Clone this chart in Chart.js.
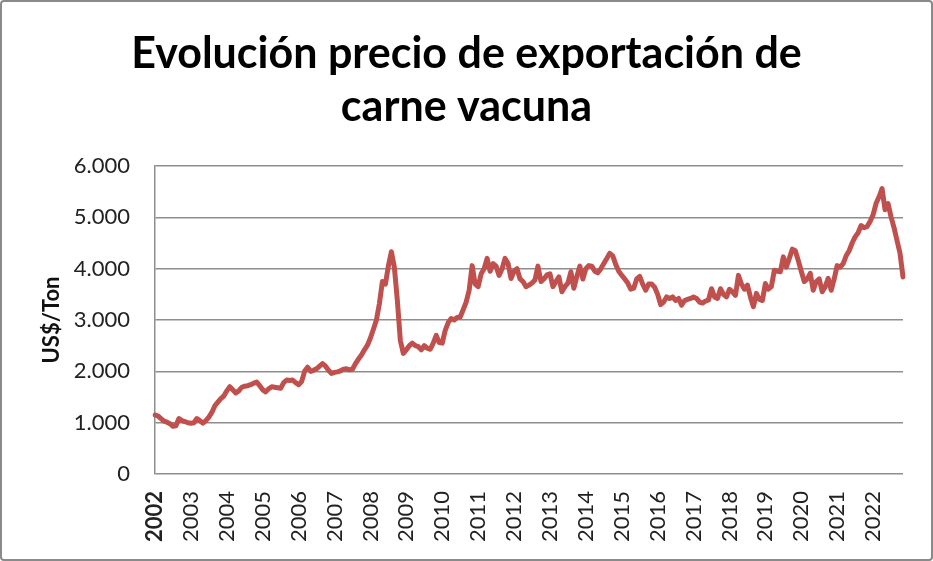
<!DOCTYPE html>
<html>
<head>
<meta charset="utf-8">
<script src="https://cdn.jsdelivr.net/npm/chart.js@4.4.1/dist/chart.umd.min.js"></script>
<style>
  html, body { margin: 0; padding: 0; background: #fff; }
  #marco {
    position: absolute; left: 0; top: 0;
    width: 929px; height: 557px;
    border: 2px solid #8a8a8a; border-radius: 4px;
    background: #fff;
  }
</style>
</head>
<body>
<div id="marco"><canvas id="graficoPrecio" width="929" height="557"></canvas></div>
<script>
// etiquetas del eje x (una por año)
const anios = ['2002','2003','2004','2005','2006','2007','2008','2009','2010','2011','2012',
               '2013','2014','2015','2016','2017','2018','2019','2020','2021','2022'];
const meses = ['ene','feb','mar','abr','may','jun','jul','ago','sep','oct','nov','dic'];

// precio mensual US$/Ton, ene-2002 a nov-2022
const precios = [
  1150,1130,1080,1030,1010,980,930,940,1080,1040,1020,1000,      // 2002
  990,1000,1080,1040,990,1040,1110,1200,1330,1400,1470,1520,      // 2003
  1620,1700,1640,1580,1620,1690,1710,1720,1740,1770,1790,1720,   // 2004
  1640,1600,1660,1700,1690,1680,1670,1780,1830,1820,1830,1780,   // 2005
  1740,1800,2000,2080,2000,2020,2050,2100,2150,2100,2020,1960,   // 2006
  1980,1990,2010,2040,2050,2030,2040,2150,2240,2320,2420,2510,   // 2007
  2650,2820,3000,3320,3750,3700,4050,4330,4030,3380,2600,2350,   // 2008
  2420,2500,2550,2500,2480,2420,2500,2450,2430,2550,2700,2560,   // 2009
  2550,2800,2950,3030,3000,3050,3060,3200,3350,3580,4060,3700,   // 2010
  3650,3900,4000,4200,3950,4100,4050,3870,4000,4200,4100,3810,   // 2011
  3950,4000,3800,3750,3650,3680,3720,3780,4050,3750,3800,3880,   // 2012
  3900,3650,3750,3840,3550,3650,3720,3940,3620,3850,4050,3800,   // 2013
  4000,4060,4050,3950,3920,4000,4100,4200,4300,4250,4080,3950,   // 2014
  3870,3800,3720,3600,3620,3800,3850,3700,3580,3700,3700,3640,   // 2015
  3500,3300,3350,3450,3420,3450,3380,3420,3290,3380,3400,3420,   // 2016
  3450,3420,3350,3330,3370,3390,3610,3450,3420,3610,3500,3450,   // 2017
  3600,3550,3480,3870,3700,3600,3680,3450,3260,3520,3400,3380,   // 2018
  3710,3600,3650,3970,3950,3940,4230,4030,4200,4380,4350,4160,   // 2019
  3950,3750,3800,3910,3580,3750,3800,3550,3650,3810,3580,3800,   // 2020
  4060,4030,4100,4250,4350,4500,4620,4700,4840,4800,4820,4920,   // 2021
  5050,5270,5400,5560,5150,5270,5010,4800,4550,4300,3840         // 2022
];

const etiquetas = [];
anios.forEach(a => meses.forEach(m => etiquetas.push(m + '-' + a)));
etiquetas.length = precios.length;

const chartData = {
  labels: etiquetas,
  datasets: [
    {
      label: 'Precio exportación',
      data: precios,
      borderColor: '#C0504D',
      backgroundColor: '#C0504D',
      borderWidth: 5,
      pointRadius: 0,
      tension: 0,
      borderJoinStyle: 'round',
      borderCapStyle: 'round'
    }
  ]
};

// el título del original está algo corrido a la derecha
const correrTitulo = {
  id: 'correrTitulo',
  afterLayout(chart) {
    if (chart.titleBlock) {
      chart.titleBlock.left += 14;
      chart.titleBlock.right += 14;
    }
  }
};

const options = {
  responsive: false,
  animation: false,
  layout: {
    padding: { left: 0, right: 28, top: 0, bottom: 0 }
  },
  scales: {
    x: {
      type: 'category',
      offset: false,
      afterFit: function (scale) { scale.height = 85; },
      grid: { display: false, drawTicks: false },
      border: { display: false },
      ticks: {
        autoSkip: false,
        minRotation: 90,
        maxRotation: 90,
        padding: 17,
        color: '#222',
        font: function (ctx) {
          return { family: 'Lato', size: 22, weight: ctx.index === 0 ? 'bold' : 'normal' };
        },
        callback: function (value, index) {
          return index % 12 === 0 ? anios[index / 12] : null;
        }
      }
    },
    y: {
      type: 'linear',
      min: 0,
      max: 6000,
      afterFit: function (scale) { scale.width = 153; },
      grid: { color: '#8e8e8e', lineWidth: 1.5, drawTicks: false },
      border: { display: true, color: '#8e8e8e', width: 1.5 },
      title: {
        display: true,
        text: 'US$/Ton',
        color: '#111',
        font: { family: 'Lato', size: 22, weight: 'bold' },
        padding: { top: 37, bottom: 0 }
      },
      ticks: {
        stepSize: 1000,
        padding: 25,
        color: '#222',
        font: { family: 'Lato', size: 22 },
        callback: function (value) {
          return value === 0 ? '0' : value.toLocaleString('es-ES', { useGrouping: 'always' }).replace(',', '.');
        }
      }
    }
  },
  plugins: {
    title: {
      display: true,
      text: ['Evolución precio de exportación de', 'carne vacuna'],
      color: '#000',
      font: { family: 'Lato', size: 43, weight: 'bold', lineHeight: 1.233 },
      padding: { top: 26, bottom: 32 }
    },
    legend: { display: false },
    tooltip: { enabled: false }
  }
};

new Chart(document.getElementById('graficoPrecio'), {
  type: 'line',
  data: chartData,
  options: options,
  plugins: [correrTitulo]
});
</script>
</body>
</html>
